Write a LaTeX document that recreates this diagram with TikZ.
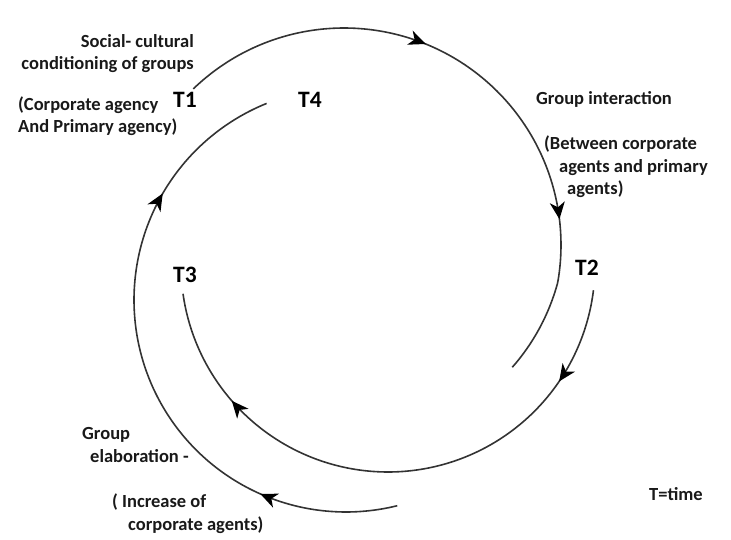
\documentclass[tikz,border=0pt]{standalone}
\usepackage{fontspec}
\setmainfont{Carlito}
\usetikzlibrary{arrows.meta,decorations.markings}

\tikzset{
  cycleline/.style={line width=1.6pt, draw=black!80},
  label/.style={font=\bfseries\fontsize{18.5}{22.5}\selectfont, inner sep=0pt, text=black!90},
  tlabel/.style={font=\bfseries\fontsize{23.5}{27}\selectfont, inner sep=0pt, text=black},
  twoarrows/.style n args={2}{
    postaction={decorate, decoration={markings,
      mark=at position #1 with {\arrow[black]{Stealth[length=17pt,width=15pt,inset=5pt]}},
      mark=at position #2 with {\arrow[black]{Stealth[length=17pt,width=15pt,inset=5pt]}}}}},
}

\begin{document}
\begin{tikzpicture}[x=1pt, y=-1pt]
  \useasboundingbox (0,0) rectangle (731,540);

  % first turn: T1 round the top to T2, closing in slightly at its end
  \draw[cycleline, twoarrows={0.39}{0.75}]
    plot[domain=-134:36, samples=160]
      ({344+(\x<10 ? 217 : 217-9*(\x-10)/26)*cos(\x)},
       {245+(\x<10 ? 217 : 217-9*(\x-10)/26)*sin(\x)});
  % second turn: T2 round the bottom to T3
  \draw[cycleline, twoarrows={0.165}{0.80}]
    plot[domain=7:172, samples=160] ({388+207*cos(\x)},{265+207*sin(\x)});
  % third turn: below, up the left side to T4
  \draw[cycleline, twoarrows={0.22}{0.78}]
    plot[domain=76:248, samples=160] ({346+212*cos(\x)},{300+212*sin(\x)});

  % time markers
  \node[tlabel, anchor=base west] (t1) at (173,108) {T1};
  \node[tlabel, anchor=base west] (t4) at (298,108) {T4};
  \node[tlabel, anchor=base west] (t2) at (575,275) {T2};
  \node[tlabel, anchor=base west] (t3) at (173,282) {T3};

  % phase descriptions (multi-line nodes sit on their last baseline)
  \node[label, anchor=base east, align=right] (social) at (194,70)
    {Social- cultural\\conditioning of groups};
  \node[label, anchor=base west, align=left] (agency) at (18,133)
    {(Corporate agency\\And Primary agency)};
  \node[label, anchor=base west] (interaction) at (536,105) {Group interaction};
  \node[label, anchor=base west, align=left] (between) at (544,195)
    {(Between corporate\\\hspace*{15pt}agents and primary\\\hspace*{23pt}agents)};
  \node[label, anchor=base west, align=left] (elab) at (82,462)
    {Group\\\hspace*{8pt}elaboration -};
  \node[label, anchor=base west, align=left] (increase) at (112,530)
    {( Increase of\\\hspace*{16pt}corporate agents)};
  \node[label, anchor=base west] (key) at (649,500) {T=time};
\end{tikzpicture}
\end{document}
